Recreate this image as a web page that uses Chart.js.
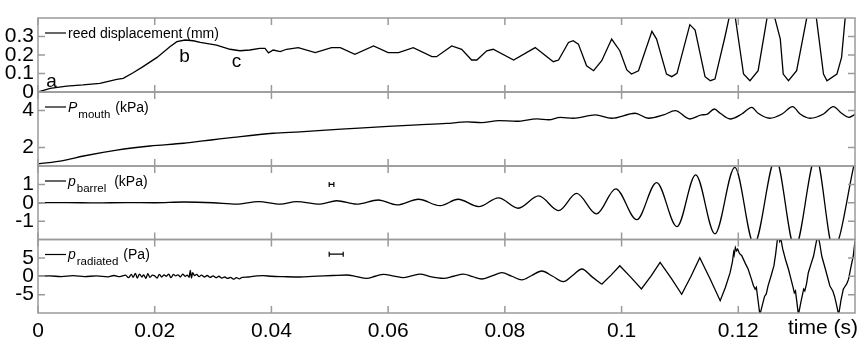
<!DOCTYPE html>
<html><head><meta charset="utf-8">
<script src="https://cdn.jsdelivr.net/npm/chart.js@4.4.1/dist/chart.umd.min.js"></script>
<style>
html,body{margin:0;padding:0;background:#fff;}
#wrap{position:relative;width:861px;height:352px;overflow:hidden;}
#wrap canvas{position:absolute;left:0;top:0;}
</style></head>
<body><div id="wrap">
<canvas id="c1" width="861" height="352"></canvas>
<canvas id="c2" width="861" height="352"></canvas>
<canvas id="c3" width="861" height="352"></canvas>
<canvas id="c4" width="861" height="352"></canvas>
</div>
<script>
// ---------- data (time in s) ----------
const xTickValues = [0, 0.02, 0.04, 0.06, 0.08, 0.1, 0.12];
const xTickLabels = ['0', '0.02', '0.04', '0.06', '0.08', '0.1', '0.12'];
const xAxisTitle = 'time (s)';

const reedTicks = [0, 0.1, 0.2, 0.3];
const reedTickLabels = ['0', '0.1', '0.2', '0.3'];
const mouthTicks = [2, 4];
const mouthTickLabels = ['2', '4'];
const barrelTicks = [-1, 0, 1];
const barrelTickLabels = ['-1', '0', '1'];
const radTicks = [-5, 0, 5];
const radTickLabels = ['-5', '0', '5'];

// reed displacement (mm)
const reedDisplacement = [
 [0,0],[0.0021,0.02],[0.0049,0.032],[0.0077,0.038],[0.0106,0.047],[0.0135,0.068],[0.0146,0.074],
 [0.0163,0.104],[0.018,0.137],[0.0204,0.187],[0.0226,0.245],[0.0238,0.272],[0.0252,0.281],
 [0.0266,0.277],[0.0278,0.268],[0.0306,0.254],[0.0329,0.231],[0.0346,0.223],[0.0363,0.227],
 [0.038,0.236],[0.0389,0.236],[0.0395,0.212],[0.0403,0.227],[0.0415,0.218],[0.0426,0.231],
 [0.0446,0.240],[0.0475,0.213],[0.0503,0.240],[0.0518,0.240],[0.0543,0.204],[0.0575,0.249],
 [0.060,0.213],[0.0618,0.213],[0.0643,0.240],[0.0675,0.191],[0.0683,0.191],[0.0709,0.249],
 [0.0726,0.231],[0.0743,0.173],[0.0752,0.173],[0.0769,0.223],[0.078,0.231],[0.0815,0.173],
 [0.0852,0.240],[0.0883,0.164],[0.0892,0.173],[0.0909,0.268],[0.0917,0.277],[0.0926,0.259],
 [0.094,0.142],[0.0952,0.115],[0.0966,0.169],[0.0983,0.286],[0.0997,0.223],[0.1009,0.119],
 [0.1017,0.097],[0.1029,0.115],[0.1052,0.328],[0.106,0.286],[0.1077,0.097],[0.1086,0.083],
 [0.1095,0.101],[0.1117,0.364],[0.1126,0.335],[0.1143,0.083],[0.1152,0.061],[0.116,0.070],
 [0.1177,0.296],[0.1189,0.47],[0.1195,0.40],[0.1209,0.097],[0.122,0.061],[0.1234,0.115],
 [0.1249,0.395],[0.1256,0.50],[0.1263,0.395],[0.1272,0.286],[0.1277,0.097],[0.1286,0.061],
 [0.130,0.115],[0.1317,0.395],[0.1325,0.52],[0.1334,0.395],[0.1346,0.097],[0.1352,0.061],
 [0.1369,0.097],[0.1377,0.187],[0.1383,0.395],[0.14,0.55]
];

// mouth pressure (kPa)
const mouthPressure = [
 [0,1.11],[0.0043,1.29],[0.0078,1.54],[0.0135,1.86],[0.0192,2.08],[0.0249,2.23],[0.03,2.42],
 [0.0335,2.55],[0.0403,2.77],[0.0449,2.85],[0.05,2.95],[0.055,3.05],[0.06,3.14],[0.065,3.22],
 [0.07,3.30],[0.0735,3.38],[0.076,3.35],[0.079,3.45],[0.082,3.42],[0.0855,3.55],[0.0875,3.50],
 [0.0895,3.63],[0.0917,3.58],[0.0955,3.76],[0.0983,3.58],[0.1023,3.85],[0.1046,3.58],
 [0.1072,3.76],[0.1092,3.99],[0.1117,3.54],[0.1137,3.76],[0.1146,3.79],[0.1159,4.08],
 [0.1169,3.85],[0.1186,3.54],[0.1206,3.81],[0.1223,4.17],[0.1234,3.85],[0.1254,3.58],
 [0.1275,3.81],[0.1293,4.21],[0.1306,3.81],[0.1323,3.58],[0.1346,3.81],[0.1363,4.21],
 [0.1377,3.85],[0.1389,3.63],[0.14,3.79]
];

// barrel pressure (kPa)
const barrelPressure = [
 [0,0],[0.005,0.01],[0.01,-0.01],[0.015,0.01],[0.02,0.0],[0.025,0.04],[0.03,0.0],
 [0.034,-0.08],[0.0378,0.06],[0.0415,-0.08],[0.0443,0.06],[0.0483,-0.08],[0.0512,0.11],
 [0.0546,-0.08],[0.0583,0.15],[0.0615,-0.12],[0.0652,0.19],[0.0689,-0.16],[0.072,0.19],
 [0.0755,-0.21],[0.0789,0.27],[0.0823,-0.30],[0.0858,0.37],[0.0892,-0.43],[0.0923,0.51],
 [0.0957,-0.61],[0.099,0.76],[0.1026,-0.92],[0.106,1.10],[0.1095,-1.30],[0.1127,1.52],
 [0.116,-1.69],[0.1194,1.93],[0.1227,-2.25],[0.1264,2.40],[0.1297,-2.45],[0.1333,2.50],
 [0.1363,-2.50],[0.14,2.30]
];

// radiated pressure (Pa)
const radiatedPressure = [
 [0,0],[0.002,0.1],[0.004,-0.1],[0.006,0.15],[0.008,-0.1],[0.010,0.1],[0.012,-0.15],[0.013,0.2],
 [0.014,-0.1],[0.015,0.3],[0.0155,-0.4],[0.016,0.5],[0.0163,-0.3],[0.0167,0.8],[0.017,-0.5],
 [0.0174,0.6],[0.0178,-0.2],[0.0181,0.4],[0.0185,-0.6],[0.0188,0.7],[0.0192,-0.3],[0.0196,0.3],
 [0.02,0.1],[0.0204,-0.5],[0.0208,0.5],[0.0212,-0.2],[0.0216,0.4],[0.022,0.0],[0.0224,0.6],
 [0.0228,-0.4],[0.0232,0.5],[0.0236,0.1],[0.024,0.4],[0.0244,-0.2],[0.0248,0.6],[0.0252,0.0],
 [0.0256,0.3],[0.0259,-0.3],[0.0261,1.6],[0.0263,-0.5],[0.0265,1.0],[0.0268,0.2],[0.0272,0.5],
 [0.0276,-0.1],[0.028,0.3],[0.0285,-0.2],[0.029,0.2],[0.0295,-0.3],[0.03,0.1],[0.0305,-0.4],
 [0.031,0.0],[0.0315,-0.5],[0.032,-0.2],[0.0325,-0.6],[0.033,-0.3],[0.0335,-0.8],[0.034,-0.4],
 [0.0345,-0.7],[0.035,-0.3],[0.036,-0.2],[0.0375,0.1],[0.0386,0.15],[0.040,0.0],[0.042,-0.1],
 [0.0449,-0.2],[0.047,-0.05],[0.049,0.1],[0.0505,0.2],[0.0529,0.34],[0.0546,-0.1],[0.0563,-0.57],
 [0.0578,0.0],[0.0592,0.53],[0.061,0.05],[0.0626,-0.38],[0.064,0.1],[0.0655,0.6],[0.0672,-0.1],
 [0.0695,-0.57],[0.0712,0.0],[0.0729,0.6],[0.0745,-0.1],[0.076,-0.75],[0.0778,0.1],[0.0795,0.97],
 [0.0812,0.0],[0.0829,-1.0],[0.0846,0.2],[0.0863,1.43],[0.0882,0.0],[0.09,-1.47],[0.0916,0.2],
 [0.0932,1.97],[0.0949,-0.1],[0.0966,-2.2],[0.0982,0.3],[0.0997,2.87],[0.1016,-0.3],[0.1034,-3.46],
 [0.1051,0.2],[0.1066,3.79],[0.1085,-0.5],[0.1103,-4.9],[0.1119,0.0],[0.1134,5.04],[0.1152,-0.8],
 [0.1169,-6.64],[0.1178,-3.0],[0.1186,0.97],[0.119,4.0],[0.1192,6.5],[0.1193,5.8],[0.1195,7.8],
 [0.1197,6.9],[0.1199,7.4],[0.1202,6.2],[0.1206,5.6],[0.1212,3.5],[0.1217,1.9],[0.1222,-0.5],
 [0.1226,-2.6],[0.1229,-3.5],[0.1231,-3.0],[0.1233,-5.5],[0.1237,-10.5],[0.1241,-8.0],
 [0.1245,-5.5],[0.1248,-4.8],[0.1251,-2.6],[0.1256,0.0],[0.1261,2.8],[0.1264,6.0],[0.1267,10.0],
 [0.1269,11.0],[0.1271,9.5],[0.1273,10.2],[0.1276,7.5],[0.1281,4.5],[0.1286,1.9],[0.129,-0.6],
 [0.1294,-3.1],[0.1296,-4.5],[0.1298,-4.0],[0.13,-6.5],[0.1303,-10.5],[0.1308,-6.5],[0.1312,-3.5],
 [0.1314,-4.0],[0.1317,-2.0],[0.132,0.97],[0.1325,3.5],[0.1329,5.5],[0.1334,9.6],[0.1337,11.0],
 [0.134,8.5],[0.1343,5.5],[0.135,1.5],[0.1357,-2.65],[0.1362,-4.0],[0.1365,-5.5],[0.1368,-7.5],
 [0.1372,-10.5],[0.1376,-6.5],[0.1378,-5.0],[0.138,-3.5],[0.1382,-3.0],[0.1386,-2.0],
 [0.1389,-0.8],[0.1393,2.5],[0.1397,5.5],[0.14,9.6]
];

// annotations: letters on the reed trace (time, value at text baseline)
const reedLetters = [['a',0.0014,0.027],['b',0.0242,0.162],['c',0.0332,0.135]];
// small horizontal error bars (time from, time to, value)
const barrelErrorBar = [0.0499, 0.0507, 1.0];
const radiatedErrorBar = [0.0499, 0.0523, 6.0];

// ---------- drawing ----------
const FONT = '"Liberation Sans", Arial, Helvetica, sans-serif';
const FRAME = '#9a9a9a';

function framePlugin(cfg) {
  return {
    id: 'frame' + cfg.id,
    afterDraw(chart) {
      const ctx = chart.ctx, a = chart.chartArea;
      const xs = chart.scales.x, ys = chart.scales.y;
      ctx.save();
      ctx.strokeStyle = FRAME; ctx.lineWidth = 1.5;
      ctx.strokeRect(a.left, a.top, a.right - a.left, a.bottom - a.top);
      ctx.beginPath();
      for (const t of xTickValues) {
        const px = xs.getPixelForValue(t);
        ctx.moveTo(px, a.top); ctx.lineTo(px, a.top + 7);
        ctx.moveTo(px, a.bottom); ctx.lineTo(px, a.bottom - 7);
      }
      for (const v of cfg.yTicks) {
        const py = ys.getPixelForValue(v);
        ctx.moveTo(a.left, py); ctx.lineTo(a.left + 7, py);
        ctx.moveTo(a.right, py); ctx.lineTo(a.right - 7, py);
      }
      ctx.stroke();
      const base = a.top + 19.5;
      ctx.strokeStyle = '#000'; ctx.lineWidth = 1.2;
      ctx.beginPath(); ctx.moveTo(45, base - 4.5); ctx.lineTo(66, base - 4.5); ctx.stroke();
      ctx.fillStyle = '#000'; ctx.textBaseline = 'alphabetic'; ctx.textAlign = 'left';
      let x = 68;
      for (const p of cfg.label) {
        x += p.gap || 0;
        ctx.font = p.sub ? '11.5px ' + FONT : (p.it ? 'italic 14px ' + FONT : '14px ' + FONT);
        ctx.fillText(p.t, x, p.sub ? base + 6 : base);
        x += ctx.measureText(p.t).width + (p.it ? 1 : 0);
      }
      if (cfg.letters) {
        ctx.font = '19px ' + FONT;
        for (const [s, t, v] of cfg.letters) ctx.fillText(s, xs.getPixelForValue(t), ys.getPixelForValue(v));
      }
      if (cfg.err) {
        const [t0, t1, v] = cfg.err;
        const x0 = xs.getPixelForValue(t0), x1 = xs.getPixelForValue(t1), py = ys.getPixelForValue(v);
        ctx.strokeStyle = '#000'; ctx.lineWidth = 1.2;
        ctx.beginPath();
        ctx.moveTo(x0, py); ctx.lineTo(x1, py);
        ctx.moveTo(x0, py - 2.5); ctx.lineTo(x0, py + 2.5);
        ctx.moveTo(x1, py - 2.5); ctx.lineTo(x1, py + 2.5);
        ctx.stroke();
      }
      if (cfg.showX) {
        ctx.font = '21px ' + FONT; ctx.textAlign = 'right'; ctx.textBaseline = 'middle';
        ctx.fillText(xAxisTitle, 858, a.bottom + 15);
      }
      ctx.restore();
    }
  };
}

function lineDs(points, mono) {
  return {
    data: points.map(([t, v]) => ({x: t, y: v})),
    borderColor: '#000', borderWidth: 1.3, pointRadius: 0, fill: false,
    tension: 0, cubicInterpolationMode: mono ? 'monotone' : 'default', clip: 0
  };
}

function makePanel(cfg) {
  let datasets;
  if (cfg.splitAt !== undefined) {
    datasets = [lineDs(cfg.data.filter(p => p[0] <= cfg.splitAt), true),
                lineDs(cfg.data.filter(p => p[0] >= cfg.splitAt), false)];
  } else {
    datasets = [lineDs(cfg.data, cfg.mono)];
  }
  new Chart(document.getElementById(cfg.id), {
    type: 'line',
    data: { datasets },
    options: {
      responsive: false, animation: false, events: [],
      layout: { padding: { left: 0, right: 6, top: cfg.top, bottom: cfg.bottom } },
      plugins: { legend: { display: false }, tooltip: { enabled: false } },
      scales: {
        x: {
          type: 'linear', min: 0, max: 0.14, display: !!cfg.showX,
          grid: { display: false, drawTicks: false, tickLength: 0 }, border: { display: false },
          afterBuildTicks: s => { s.ticks = xTickValues.map(v => ({ value: v })); },
          afterFit: s => { s.height = cfg.showX ? 39 : 0; },
          ticks: { autoSkip: false, maxRotation: 0, padding: 5.5, color: '#000',
                   font: { family: FONT, size: 21 },
                   callback: (v, i) => xTickLabels[i] }
        },
        y: {
          type: 'linear', min: cfg.min, max: cfg.max,
          grid: { display: false, drawTicks: false, tickLength: 0 }, border: { display: false },
          afterBuildTicks: s => { s.ticks = cfg.yTicks.map(v => ({ value: v })); },
          afterFit: s => { s.width = 38; },
          ticks: { autoSkip: false, padding: 4, color: '#000',
                   font: { family: FONT, size: 21 },
                   callback: (v, i) => cfg.yLabels[i] }
        }
      }
    },
    plugins: [framePlugin(cfg)]
  });
}

makePanel({ id: 'c1', data: reedDisplacement, min: 0, max: 0.4, yTicks: reedTicks, yLabels: reedTickLabels,
  top: 18, bottom: 352 - 92, label: [{t: 'reed displacement (mm)'}], letters: reedLetters });
makePanel({ id: 'c2', data: mouthPressure, min: 1, max: 5, yTicks: mouthTicks, yLabels: mouthTickLabels,
  top: 92, bottom: 352 - 166, mono: true,
  label: [{t: 'P', it: true}, {t: 'mouth', sub: true}, {t: '(kPa)', gap: 5}] });
makePanel({ id: 'c3', data: barrelPressure, min: -2, max: 2, yTicks: barrelTicks, yLabels: barrelTickLabels,
  top: 166, bottom: 352 - 239.5, mono: true, err: barrelErrorBar,
  label: [{t: 'p', it: true}, {t: 'barrel', sub: true}, {t: '(kPa)', gap: 8}] });
makePanel({ id: 'c4', data: radiatedPressure, min: -10, max: 10, yTicks: radTicks, yLabels: radTickLabels,
  top: 239.5, bottom: 0, showX: true, err: radiatedErrorBar, splitAt: 0.0966,
  label: [{t: 'p', it: true}, {t: 'radiated', sub: true}, {t: '(Pa)', gap: 5}] });
</script>
</body></html>
